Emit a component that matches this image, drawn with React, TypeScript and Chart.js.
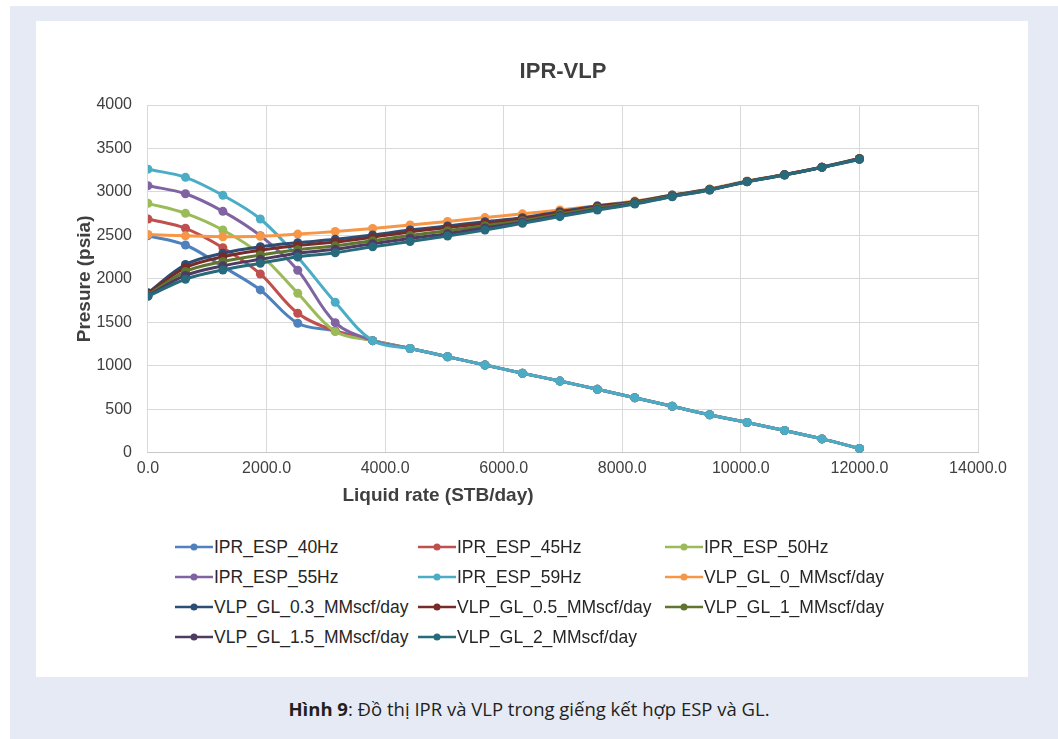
import React, { useEffect, useRef } from "react";
import { Chart, registerables } from "chart.js";

Chart.register(...registerables);

// Liquid rate (STB/day) at every sampled point
const liquidRates = [0, 632, 1263, 1895, 2526, 3158, 3789, 4421, 5053, 5684, 6316, 6947, 7579, 8211, 8842, 9474, 10105, 10737, 11368, 12000];

// IPR curves: the first six points differ, the rest are shared
const iprTail = [1290, 1200, 1105, 1010, 915, 825, 730, 633, 535, 437, 348, 256, 160, 50];
const ipr40Head = [2497, 2390, 2141, 1873, 1490, 1402];
const ipr45Head = [2689, 2582, 2359, 2057, 1605, 1400];
const ipr50Head = [2869, 2754, 2562, 2280, 1835, 1394];
const ipr55Head = [3072, 2979, 2777, 2497, 2100, 1497];
const ipr59Head = [3262, 3168, 2961, 2689, 2250, 1731];

// VLP curves
const vlpGl0 = [2510, 2495, 2485, 2490, 2515, 2545, 2580, 2620, 2660, 2705, 2748, 2793, 2840, 2895, 2965, 3035, 3125, 3200, 3285, 3385];
const vlpGl03 = [1840, 2165, 2295, 2370, 2416, 2455, 2505, 2562, 2608, 2658, 2704, 2773, 2838, 2888, 2964, 3030, 3120, 3200, 3285, 3385];
const vlpGl05 = [1830, 2130, 2255, 2330, 2385, 2425, 2480, 2540, 2590, 2640, 2692, 2762, 2828, 2882, 2960, 3029, 3120, 3199, 3285, 3383];
const vlpGl1 = [1815, 2085, 2200, 2275, 2335, 2380, 2440, 2500, 2555, 2612, 2670, 2745, 2815, 2875, 2955, 3027, 3119, 3197, 3284, 3380];
const vlpGl15 = [1805, 2040, 2150, 2225, 2295, 2340, 2405, 2465, 2520, 2585, 2652, 2728, 2800, 2866, 2948, 3023, 3118, 3195, 3283, 3376];
const vlpGl2 = [1800, 1996, 2103, 2180, 2255, 2301, 2370, 2430, 2493, 2562, 2639, 2716, 2792, 2861, 2945, 3022, 3117, 3194, 3282, 3374];

const seriesNames = [
  "IPR_ESP_40Hz", "IPR_ESP_45Hz", "IPR_ESP_50Hz", "IPR_ESP_55Hz", "IPR_ESP_59Hz",
  "VLP_GL_0_MMscf/day", "VLP_GL_0.3_MMscf/day", "VLP_GL_0.5_MMscf/day",
  "VLP_GL_1_MMscf/day", "VLP_GL_1.5_MMscf/day", "VLP_GL_2_MMscf/day",
];
const seriesValues = [
  ipr40Head.concat(iprTail), ipr45Head.concat(iprTail), ipr50Head.concat(iprTail),
  ipr55Head.concat(iprTail), ipr59Head.concat(iprTail),
  vlpGl0, vlpGl03, vlpGl05, vlpGl1, vlpGl15, vlpGl2,
];
const seriesColors = [
  "#4f81bd", "#c0504d", "#9bbb59", "#8064a2", "#4bacc6", "#f79646",
  "#2c4d75", "#772c2a", "#5f7530", "#4d3b62", "#276a7c",
];

const xTicksMax = 14000;
const yTicksMax = 4000;

const FONT = "'Liberation Sans', Arial, sans-serif";

// legend grid: 3 columns
const legendCols = [139, 382, 629];
const legendRows = [526, 556, 586, 616];

export default function App() {
  const ref = useRef<HTMLCanvasElement>(null);

  useEffect(() => {
    const datasets = seriesNames.map((name, i) => ({
      label: name,
      data: liquidRates.map((x, j) => ({ x, y: seriesValues[i][j] })),
      borderColor: seriesColors[i],
      backgroundColor: seriesColors[i],
      borderWidth: 3,
      pointRadius: 4.5,
      pointBorderWidth: 0,
      pointBackgroundColor: seriesColors[i],
      tension: 0.35,
      fill: false,
      order: seriesNames.length - i,
    }));
    const chart = new Chart(ref.current!, {
      type: "line",
      data: { datasets },
      options: {
        responsive: false,
        animation: false,
        layout: { padding: { left: 4, right: 50, top: 0, bottom: 7 } },
        plugins: {
          legend: { display: false },
          tooltip: { enabled: false },
          title: {
            display: true,
            fullSize: false,
            text: "IPR-VLP",
            color: "#3f3f3f",
            font: { family: FONT, size: 22, weight: "bold" },
            padding: { top: 38, bottom: 19.6 },
          },
        },
        scales: {
          x: {
            type: "linear",
            min: 0,
            max: xTicksMax,
            grid: { color: "#d9d9d9", drawTicks: false },
            border: { color: "#c8c8c8" },
            ticks: {
              stepSize: 2000,
              padding: 6,
              maxRotation: 0,
              color: "#404040",
              font: { family: FONT, size: 16 },
              callback: (v: any) => Number(v).toFixed(1),
            },
          },
          y: {
            min: 0,
            max: yTicksMax,
            grid: { color: "#d9d9d9", drawTicks: false },
            border: { color: "#d9d9d9" },
            ticks: {
              stepSize: 500,
              padding: 16,
              color: "#404040",
              font: { family: FONT, size: 16 },
              callback: (v: any) => String(v),
            },
            title: {
              display: true,
              text: "Presure (psia)",
              color: "#3f3f3f",
              font: { family: FONT, size: 19, weight: "bold" },
              padding: { top: 33.6, bottom: -16 },
            },
          },
        },
      },
    });
    return () => chart.destroy();
  }, []);

  return (
    <div style={{ position: "absolute", left: 0, top: 0, width: 1058, height: 739, background: "#fff", overflow: "hidden" }}>
      <div style={{ position: "absolute", left: 10, top: 6, right: 0, bottom: 0, background: "#e6eaf5" }} />
      <div style={{ position: "absolute", left: 36, top: 21, width: 992, height: 656, background: "#fff" }}>
        <canvas ref={ref} width={992} height={470} style={{ display: "block", width: 992, height: 470 }} />
        <div
          style={{
            position: "absolute", left: 402, top: 463, transform: "translateX(-50%)", whiteSpace: "nowrap",
            font: `bold 19px ${FONT}`, color: "#3f3f3f",
          }}
        >
          Liquid rate (STB/day)
        </div>
        {seriesNames.map((name, i) => {
          const col = i % 3;
          const row = Math.floor(i / 3);
          return (
            <div
              key={name}
              style={{
                position: "absolute", left: legendCols[col], top: legendRows[row] - 11, height: 22,
                display: "flex", alignItems: "center", whiteSpace: "nowrap",
                font: `17.5px ${FONT}`, color: "#262626",
              }}
            >
              <svg width={38} height={12} style={{ marginRight: 1 }}>
                <line x1={0} y1={6} x2={38} y2={6} stroke={seriesColors[i]} strokeWidth={2.5} />
                <circle cx={19} cy={6} r={3.5} fill={seriesColors[i]} />
              </svg>
              <span>{name}</span>
            </div>
          );
        })}
      </div>
      <div
        style={{
          position: "absolute", left: 0, top: 696, width: 1058, textAlign: "center",
          font: `18.5px 'Open Sans', 'Noto Sans', sans-serif`, color: "#231f20",
        }}
      >
        <b>Hình 9</b>: Đồ thị IPR và VLP trong giếng kết hợp ESP và GL.
      </div>
    </div>
  );
}
